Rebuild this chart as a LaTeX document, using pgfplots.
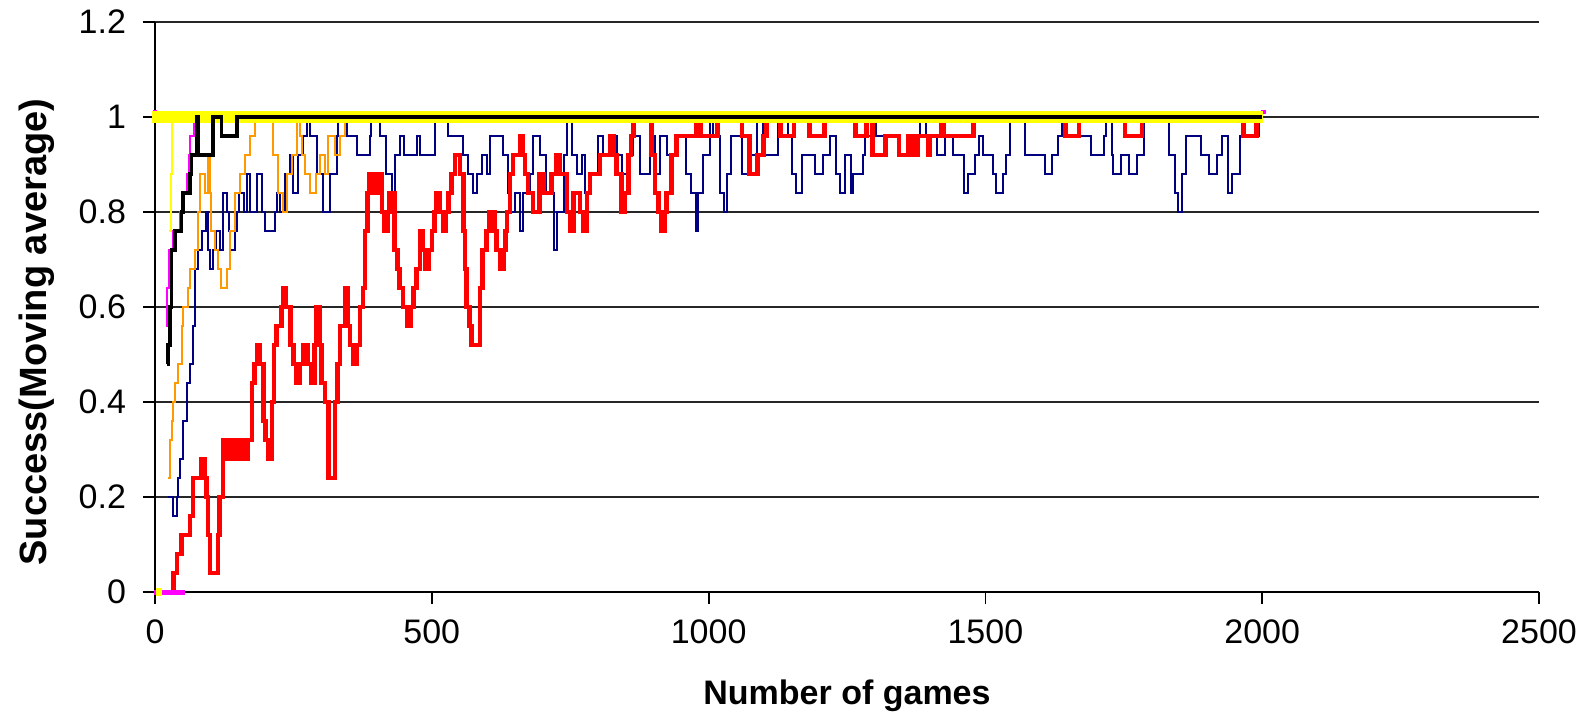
\documentclass[border=0pt]{standalone}
\usepackage{fontspec}
\setmainfont{Liberation Sans}
\usepackage{pgfplots}
\pgfplotsset{compat=1.18}
\usetikzlibrary{calc}
\definecolor{navyc}{RGB}{0,0,128}
\definecolor{orangec}{RGB}{255,153,0}
\definecolor{yellowc}{RGB}{255,255,0}
\definecolor{magc}{RGB}{255,0,255}
\begin{document}
\begin{tikzpicture}
\begin{axis}[
  scale only axis,
  width=692pt, height=285pt,
  xmin=0, xmax=2500, ymin=0, ymax=1.2,
  axis x line=bottom, axis y line=left,
  axis line style={-, line width=1pt, black},
  xtick={0,500,1000,1500,2000,2500},
  ytick={0,0.2,0.4,0.6,0.8,1,1.2},
  yticklabels={0,0.2,0.4,0.6,0.8,1,1.2},
  xticklabels={0,500,1000,1500,2000,2500},
  tick align=outside, major tick length=6pt,
  tick style={black, line width=0.9pt},
  ymajorgrids,
  major grid style={black!85, line width=1pt},
  tick label style={font=\fontsize{17}{19}\selectfont},
  xticklabel style={anchor=center, yshift=-14pt},
  yticklabel style={anchor=east, xshift=-5pt},
  xlabel={\textbf{Number of games}},
  ylabel={\textbf{Success(Moving average)}},
  xlabel style={font=\fontsize{17}{19}\selectfont, at={(axis description cs:0.5,0)}, anchor=center, yshift=-52pt},
  ylabel style={font=\fontsize{19}{21}\selectfont, at={(axis description cs:0,0.456)}, anchor=center, yshift=59pt},
  clip=false,
]
% navy
\addplot[const plot, navyc, line width=1pt] coordinates {
(24,0.2)(33,0.16)(39,0.2)(42,0.24)(45,0.28)(51,0.36)(57,0.44)(63,0.48)(69,0.56)(72,0.68)(78,0.72)(84,0.76)(93,0.8)(96,0.72)(99,0.68)(105,0.72)(111,0.76)(117,0.72)(123,0.84)(130,0.8)(133,0.76)(136,0.72)(145,0.76)(148,0.8)(151,0.84)(160,0.8)(166,0.88)(172,0.8)(184,0.88)(193,0.8)(199,0.76)(217,0.8)(220,0.84)(226,0.8)(235,0.88)(244,0.92)(250,0.84)(259,0.92)(268,0.96)(274,1)(280,0.96)(292,0.88)(304,0.8)(316,0.88)(328,0.96)(331,1)(346,0.96)(364,0.92)(388,0.96)(391,1)(406,0.96)(418,0.88)(428,0.84)(434,0.92)(443,0.96)(449,0.92)(473,0.96)(479,0.92)(506,1)(530,0.96)(557,0.92)(566,0.88)(575,0.84)(581,0.88)(590,0.92)(599,0.88)(605,0.96)(629,0.92)(638,0.84)(641,0.8)(650,0.84)(659,0.76)(665,0.84)(677,0.88)(683,0.96)(695,0.92)(707,0.84)(720,0.72)(726,0.8)(738,0.92)(744,1)(753,0.92)(762,0.88)(771,0.92)(777,0.84)(786,0.88)(801,0.96)(810,0.92)(822,0.96)(834,0.92)(843,0.88)(858,0.92)(864,0.96)(876,0.88)(894,0.96)(903,0.88)(912,0.96)(924,0.92)(945,0.96)(960,0.88)(969,0.84)(978,0.76)(981,0.84)(990,0.92)(1002,1)(1008,0.96)(1021,0.84)(1027,0.8)(1033,0.88)(1040,0.96)(1061,0.88)(1074,0.92)(1088,1)(1099,0.92)(1126,1)(1144,0.96)(1150,0.88)(1157,0.84)(1168,0.92)(1192,0.88)(1206,0.92)(1220,0.96)(1230,0.88)(1237,0.84)(1247,0.92)(1258,0.84)(1261,0.88)(1278,0.92)(1282,0.96)(1296,1)(1302,0.96)(1344,0.92)(1361,0.96)(1382,1)(1392,0.96)(1413,0.92)(1427,0.96)(1441,0.92)(1462,0.84)(1468,0.88)(1482,0.92)(1489,0.96)(1496,0.92)(1513,0.88)(1520,0.84)(1531,0.88)(1538,0.92)(1544,1)(1558,1)(1572,0.92)(1607,0.88)(1620,0.92)(1631,0.96)(1638,1)(1648,0.96)(1690,0.92)(1714,0.96)(1717,1)(1728,0.92)(1731,0.88)(1745,0.92)(1759,0.88)(1773,0.92)(1786,1)(1824,1)(1831,0.92)(1842,0.84)(1847,0.8)(1856,0.88)(1862,0.96)(1890,0.92)(1904,0.88)(1918,0.92)(1928,0.96)(1938,0.84)(1945,0.88)(1959,0.96)(1966,1)(1987,0.96)(1994,1)(2000,1)
};
% red
\addplot[const plot, red, line width=2.3pt] coordinates {
(30,0)(33,0.04)(40,0.08)(48,0.12)(63,0.16)(69,0.24)(84,0.28)(90,0.24)(93,0.2)(96,0.12)(99,0.04)(114,0.12)(117,0.2)(123,0.32)(130,0.28)(134,0.32)(140,0.28)(145,0.32)(150,0.28)(156,0.32)(163,0.28)(168,0.32)(175,0.44)(180,0.48)(184,0.52)(190,0.48)(196,0.36)(200,0.32)(205,0.28)(211,0.4)(215,0.52)(220,0.56)(228,0.6)(232,0.64)(236,0.6)(245,0.52)(250,0.48)(256,0.44)(262,0.48)(268,0.52)(275,0.48)(283,0.44)(288,0.52)(292,0.6)(297,0.52)(301,0.44)(307,0.4)(313,0.24)(325,0.4)(330,0.48)(334,0.56)(343,0.64)(348,0.56)(352,0.52)(358,0.48)(365,0.52)(370,0.6)(376,0.64)(379,0.76)(384,0.84)(388,0.88)(396,0.84)(403,0.88)(410,0.8)(415,0.76)(420,0.8)(424,0.84)(433,0.72)(438,0.68)(442,0.64)(448,0.6)(455,0.56)(462,0.6)(467,0.64)(472,0.68)(479,0.76)(484,0.72)(488,0.68)(494,0.72)(500,0.76)(505,0.8)(509,0.84)(515,0.8)(521,0.76)(526,0.8)(530,0.84)(536,0.88)(542,0.92)(551,0.88)(557,0.76)(560,0.68)(563,0.6)(568,0.56)(572,0.52)(587,0.64)(592,0.72)(599,0.76)(604,0.8)(613,0.76)(617,0.72)(623,0.68)(629,0.72)(633,0.76)(636,0.8)(641,0.88)(647,0.92)(659,0.96)(665,0.92)(668,0.88)(674,0.84)(683,0.8)(695,0.88)(702,0.84)(716,0.88)(725,0.92)(731,0.88)(744,0.8)(750,0.76)(756,0.84)(768,0.8)(774,0.76)(780,0.84)(786,0.88)(804,0.92)(822,0.96)(828,0.92)(834,0.88)(843,0.8)(849,0.84)(855,0.92)(860,0.96)(864,1)(888,1)(897,0.92)(903,0.84)(909,0.8)(915,0.76)(920,0.8)(924,0.84)(933,0.92)(942,0.96)(978,1)(985,0.96)(1016,1)(1060,0.96)(1074,0.88)(1088,0.92)(1099,0.96)(1105,1)(1130,0.96)(1154,1)(1182,0.96)(1209,1)(1265,0.96)(1285,1)(1296,0.92)(1320,0.96)(1344,0.92)(1361,0.96)(1370,0.92)(1378,0.96)(1396,0.92)(1399,0.96)(1420,1)(1425,0.96)(1430,0.96)(1479,1)(1645,0.96)(1669,1)(1752,0.96)(1783,1)(1966,0.96)(1990,1)(2000,1)
};
% orange
\addplot[const plot, orangec, line width=1pt] coordinates {
(24,0.24)(27,0.32)(30,0.36)(33,0.4)(36,0.44)(42,0.48)(48,0.56)(51,0.6)(60,0.64)(63,0.68)(72,0.72)(78,0.8)(81,0.88)(90,0.84)(96,0.92)(99,0.84)(102,0.76)(108,0.72)(114,0.68)(120,0.64)(130,0.68)(136,0.76)(145,0.84)(153,0.88)(163,0.92)(172,0.96)(181,1)(208,1)(214,0.92)(223,0.84)(232,0.8)(238,0.88)(247,0.92)(256,1)(262,0.96)(266,0.92)(271,0.88)(280,0.84)(290,0.88)(298,0.92)(307,0.88)(313,0.96)(325,0.92)(334,0.96)(343,1)(2000,1)
};
% magenta
\addplot[magc, line width=2.5pt] coordinates {(-2,0)(55,0)};
\addplot[const plot, magc, line width=1pt] coordinates {(19,0.56)(22,0.64)(25,0.72)(33,0.76)(45,0.8)(48,0.84)(58,0.88)(61,0.92)(64,0.96)(70,1)(72,1)};
\addplot[magc, line width=2pt] coordinates {(-3,1.01)(4,1.01)};
\addplot[magc, line width=2pt] coordinates {(1998,1.01)(2006,1.01)};
% yellow
\addplot[yellowc, line width=5.8pt] coordinates {(-6,1)(2002,1)};
\addplot[const plot, yellowc, line width=1pt] coordinates {(26,0.76)(28,0.8)(29,0.88)(30,0.92)(31,1)(33,1)};
\addplot[yellowc, line width=4pt] coordinates {(2,0)(12,0)};
% black
\addplot[const plot, black, line width=1.8pt] coordinates {
(21,0.48)(24,0.52)(27,0.6)(30,0.72)(36,0.76)(48,0.8)(51,0.84)(63,0.88)(66,0.92)(75,1)(78,0.92)(105,1)(120,0.96)(148,1)(2000,1)
};
\end{axis}
\pgfresetboundingbox
\path ($(current axis.south west)+(-77.5pt,-64pt)$) rectangle ($(current axis.north east)+(24pt,11pt)$);
\end{tikzpicture}
\end{document}
